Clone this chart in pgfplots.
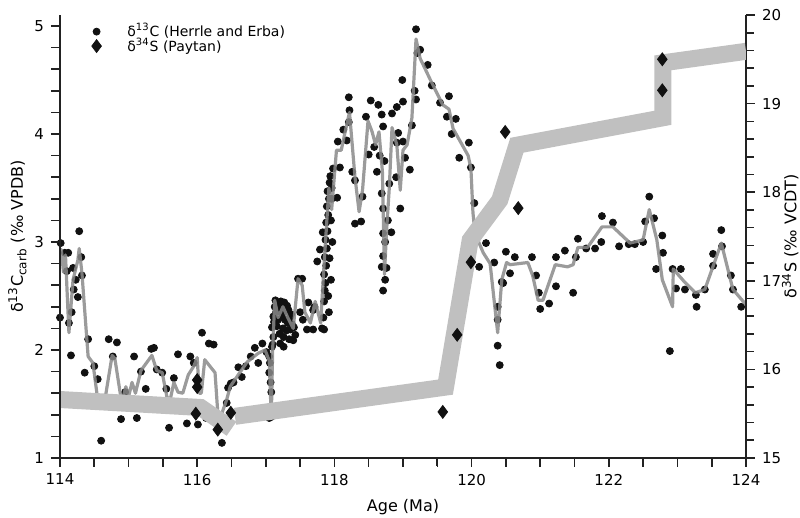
\documentclass[border=0pt]{standalone}
\usepackage{fontspec}
\setmainfont{DejaVu Sans}
\usepackage{pgfplots}
\pgfplotsset{compat=1.18}

\definecolor{dotc}{HTML}{111111}
\definecolor{linec}{HTML}{8A8A8A}
\definecolor{bandc}{HTML}{C0C0C0}
\definecolor{axc}{HTML}{222222}
\tikzset{tk/.style={draw=axc, line width=0.8pt}}

% d13C carb (Herrle and Erba)
\pgfplotstableread{
age d13c
114.01 2.99
114.00 2.30
114.12 2.90
114.07 2.90
114.28 3.10
114.31 2.86
114.19 2.76
114.10 2.73
114.23 2.65
114.20 2.56
114.26 2.49
114.32 2.69
114.17 2.35
114.13 2.25
114.16 1.95
114.41 2.10
114.50 1.85
114.36 1.79
114.55 1.73
114.60 1.16
114.66 1.56
114.71 2.10
114.77 1.94
114.83 2.07
114.90 1.51
114.95 1.61
115.00 1.51
114.89 1.36
115.08 1.94
115.12 1.37
115.18 1.80
115.25 1.64
115.33 2.01
115.37 2.02
115.41 1.82
115.49 1.79
115.55 1.64
115.59 1.28
115.66 1.74
115.72 1.96
115.76 1.48
115.85 1.32
115.90 1.94
115.95 1.88
116.07 2.16
116.01 1.31
116.17 2.06
116.24 2.05
116.13 1.37
116.30 1.31
116.36 1.14
116.43 1.51
116.45 1.65
116.49 1.69
116.53 1.70
116.60 1.84
116.65 1.75
116.71 1.85
116.78 1.94
116.84 2.02
116.89 1.88
116.95 2.06
117.01 1.98
117.05 1.37
117.08 1.38
117.07 1.47
117.08 1.61
117.07 1.70
117.05 1.79
117.06 1.88
117.05 1.94
117.09 2.03
117.11 2.12
117.09 2.21
117.11 2.31
117.13 2.40
117.14 2.46
117.10 2.05
117.12 2.26
117.15 2.35
117.17 2.42
117.18 2.28
117.20 2.15
117.21 2.06
117.22 2.45
117.23 2.38
117.24 2.31
117.25 2.20
117.26 2.12
117.27 2.44
117.28 2.28
117.29 2.36
117.30 2.18
117.31 2.41
117.32 2.25
117.33 2.37
117.34 2.10
117.35 2.30
117.36 2.19
117.37 2.33
117.38 2.24
117.40 2.09
117.41 2.21
117.43 2.14
117.19 2.36
117.26 2.03
117.16 2.22
117.47 2.66
117.53 2.66
117.50 2.35
117.54 2.28
117.60 2.19
117.62 2.44
117.69 2.37
117.69 2.19
117.71 2.40
117.82 2.20
117.85 2.19
117.75 2.82
117.79 2.93
117.83 3.09
117.84 2.30
117.85 2.45
117.86 2.55
117.87 2.62
117.85 2.70
117.88 2.78
117.86 2.86
117.89 2.94
117.87 3.02
117.90 3.10
117.88 3.18
117.91 3.25
117.89 3.33
117.92 3.40
117.90 3.47
117.93 3.55
117.94 3.61
117.96 3.40
117.95 3.20
117.97 3.00
117.93 2.85
117.95 2.65
117.91 2.50
117.92 2.35
117.96 3.50
117.98 3.68
118.04 3.41
118.05 3.93
118.08 3.69
118.13 4.04
118.21 4.34
118.22 4.22
118.21 4.11
118.18 3.94
118.26 3.65
118.30 3.57
118.41 3.42
118.30 3.17
118.39 3.19
118.46 4.16
118.53 4.31
118.64 4.27
118.58 3.88
118.50 3.81
118.69 4.18
118.71 4.07
118.62 3.65
118.66 3.80
118.73 3.75
118.69 3.45
118.71 3.31
118.78 3.20
118.83 3.09
118.71 3.08
118.74 3.00
118.71 2.87
118.69 2.77
118.76 2.76
118.74 2.65
118.71 2.55
118.80 3.54
118.84 4.19
118.91 4.25
119.00 4.30
118.93 4.01
119.00 3.93
118.91 3.92
118.90 3.60
119.03 3.78
118.96 3.31
119.10 3.67
119.13 4.08
119.19 4.32
119.17 4.40
118.99 4.50
119.19 4.97
119.25 4.78
119.21 4.75
119.36 4.64
119.42 4.45
119.67 4.35
119.54 4.29
119.64 4.16
119.77 4.14
119.71 4.00
119.96 3.92
119.82 3.78
119.99 3.69
120.04 3.36
120.05 3.14
120.02 2.99
120.21 2.99
120.11 2.77
120.33 2.81
120.50 2.91
120.63 2.86
120.56 2.71
120.46 2.62
120.38 2.40
120.38 2.28
120.38 2.04
120.41 1.86
120.44 2.63
120.88 2.86
120.94 2.69
120.98 2.53
121.00 2.38
121.13 2.43
121.23 2.59
121.23 2.86
121.36 2.92
121.48 2.53
121.52 2.86
121.55 3.03
121.67 2.94
121.80 2.94
121.89 3.00
121.90 3.24
122.06 3.18
122.15 2.96
122.29 2.98
122.38 2.98
122.50 3.00
122.53 3.19
122.59 3.42
122.66 3.22
122.78 3.06
122.79 2.90
122.69 2.75
122.89 1.99
122.93 2.75
123.05 2.75
122.98 2.57
123.11 2.56
123.27 2.51
123.28 2.40
123.40 2.56
123.52 2.78
123.52 2.89
123.64 3.11
123.65 2.96
123.78 2.69
123.81 2.56
123.93 2.40
}\carbdata

% smoothed d13C curve
\pgfplotstableread{
age d13c
114.00 2.85
114.02 2.93
114.05 2.72
114.08 2.88
114.13 2.16
114.19 2.65
114.26 2.83
114.28 2.94
114.32 2.71
114.41 1.94
114.48 1.88
114.55 1.54
114.60 1.47
114.66 1.56
114.76 1.95
114.80 1.92
114.90 1.51
114.96 1.66
115.00 1.57
115.05 1.70
115.10 1.60
115.18 1.81
115.34 1.95
115.41 1.81
115.49 1.79
115.56 1.56
115.61 1.55
115.66 1.70
115.72 1.61
115.79 1.60
115.87 1.77
115.95 1.85
116.00 1.93
116.03 1.60
116.06 1.60
116.11 1.91
116.26 1.79
116.30 1.42
116.33 1.36
116.43 1.54
116.48 1.66
116.62 1.79
116.73 1.89
116.89 1.97
116.99 2.00
117.05 1.90
117.08 1.37
117.10 2.00
117.13 2.46
117.18 2.30
117.25 2.40
117.32 2.30
117.40 2.20
117.47 2.66
117.53 2.60
117.57 2.35
117.65 2.25
117.72 2.45
117.80 2.25
117.85 2.80
117.88 3.10
117.92 3.50
117.96 3.30
118.03 3.85
118.10 3.85
118.15 4.00
118.22 4.20
118.30 3.60
118.36 3.28
118.41 3.48
118.49 4.12
118.55 4.02
118.60 3.90
118.65 4.02
118.70 3.65
118.73 2.70
118.76 3.10
118.80 3.50
118.84 4.06
118.91 3.90
118.96 3.48
119.00 3.85
119.06 3.90
119.13 4.15
119.19 4.88
119.25 4.70
119.40 4.50
119.58 4.27
119.67 4.23
119.73 4.05
119.95 3.80
119.99 3.68
120.02 3.27
120.05 3.08
120.17 2.90
120.27 2.80
120.38 2.16
120.44 2.65
120.51 2.81
120.56 2.79
120.82 2.81
120.89 2.69
120.97 2.46
121.04 2.46
121.22 2.79
121.40 2.77
121.48 2.79
121.55 2.95
121.69 2.95
121.90 3.14
122.06 3.14
122.31 2.99
122.50 3.02
122.59 3.30
122.70 3.02
122.78 2.65
122.93 2.40
122.94 2.75
123.09 2.64
123.26 2.53
123.40 2.56
123.64 2.99
123.81 2.56
124.00 2.42
}\carbline

\pgfplotsset{
  chartbase/.style={
    scale only axis, width=343pt, height=221.5pt,
    xmin=114, xmax=124, clip mode=individual,
    axis line style={draw=axc, line width=0.9pt},
    tick style={draw=axc, line width=0.8pt},
    tick align=outside,
    major tick length=4.5pt, minor tick length=4pt,
    tick label style={font=\fontsize{7.5}{8}\selectfont},
    label style={font=\fontsize{8}{9}\selectfont},
    /pgf/number format/assume math mode=true,
  },
}

\begin{document}
\begin{tikzpicture}
% d13C data (left scale)
\begin{axis}[chartbase, hide axis, ymin=1, ymax=5.102]
\addplot[only marks, mark=*, mark size=1.75pt, dotc] table[x=age, y=d13c] {\carbdata};
\addplot[linec, line width=1.6pt, opacity=0.85, line join=round] table[x=age, y=d13c] {\carbline};
\end{axis}
% right axis: d34S
\begin{axis}[chartbase,
  axis x line=none, axis y line*=right,
  ymin=15, ymax=20,
  ytick={15,16,...,20}, minor ytick={15,15.2,...,20.05},
  ylabel={δ\textsuperscript{34}S (‰ VCDT)},
  ylabel style={yshift=6.5pt},
  legend style={at={(0.037,1.0)}, anchor=north west, draw=none, fill=none,
    font=\fontsize{7}{7}\selectfont, row sep=-5pt},
  legend cell align=left,
]
\addplot[bandc, line width=8.5pt, forget plot] coordinates {
  (114.00,15.66) (116.05,15.57) (116.50,15.33)
};
\addplot[bandc, line width=8.5pt, line join=miter, forget plot] coordinates {
  (116.55,15.47) (119.62,15.80) (119.98,17.46) (120.41,17.91) (120.66,18.53)
  (122.79,18.84) (122.79,19.46) (124.00,19.59)
};
\addlegendimage{only marks, mark=*, mark size=1.75pt, dotc}
\addlegendentry{\hspace*{11pt}δ\textsuperscript{13}C (Herrle and Erba)}
\addplot[only marks, mark=diamond*, mark size=3.2pt, dotc] coordinates {
  (116.00,15.88) (116.00,15.80) (115.98,15.50) (116.30,15.32) (116.49,15.51)
  (119.58,15.52) (119.79,16.39) (119.99,17.21) (120.49,18.68) (120.68,17.82)
  (122.78,19.50) (122.78,19.15)
};
\addlegendentry{\hspace*{11pt}δ\textsuperscript{34}S (Paytan)}
\end{axis}
% left and bottom axes
\begin{axis}[chartbase,
  axis x line*=bottom, axis y line*=left,
  ymin=1, ymax=5.102,
  xtick={114,116,...,124}, minor xtick={114,114.5,...,124},
  ytick={1,2,3,4,5}, minor ytick={1,1.2,...,5.05},
  xlabel={Age (Ma)},
  ylabel={δ\textsuperscript{13}C\textsubscript{carb} (‰ VPDB)},
  ylabel style={yshift=-3pt},
]
\end{axis}
% tick marks of the left and bottom axes (axis box: 343pt x 221.5pt at the origin)
\foreach \i in {0,...,20} {
  \draw[tk] ({\i*17.15pt},0pt) -- ++(0pt,-4.5pt);
}
\foreach \j in {0,...,20} {
  \draw[tk] (0pt,{\j*10.8pt}) -- ++(-4.5pt,0pt);
}
\pgfresetboundingbox
\path[use as bounding box] (-30pt,-30pt) rectangle (370pt,229pt);
\end{tikzpicture}
\end{document}
